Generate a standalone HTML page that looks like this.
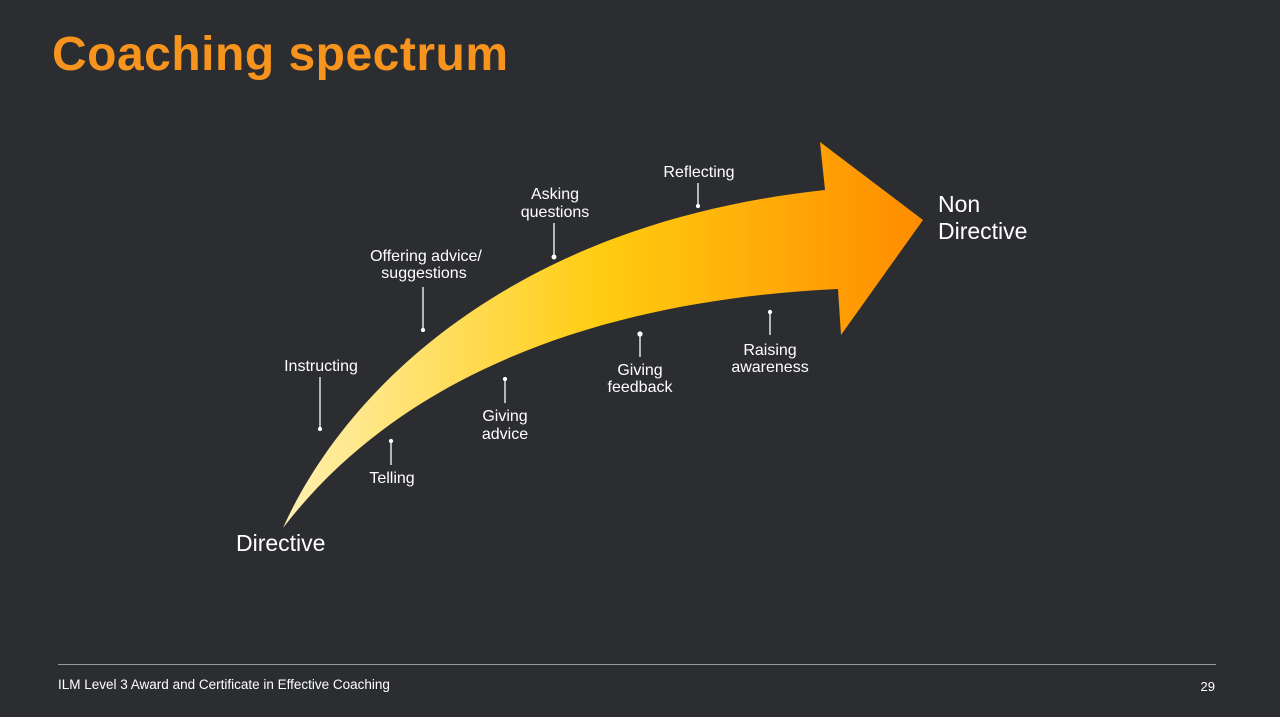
<!DOCTYPE html>
<html><head><meta charset="utf-8"><style>
body{margin:0;width:1280px;height:712px;background:#2c2d31;overflow:hidden;font-family:"Liberation Sans",sans-serif}
</style></head><body>
<svg width="1280" height="712" xmlns="http://www.w3.org/2000/svg">
<defs><linearGradient id="g" x1="283" y1="0" x2="923" y2="0" gradientUnits="userSpaceOnUse">
<stop offset="0" stop-color="#fff0b0"/><stop offset="0.5" stop-color="#ffcc10"/><stop offset="1" stop-color="#ff8c00"/></linearGradient></defs>
<rect width="1280" height="712" fill="#2c2d31"/>
<text x="52" y="70" font-size="48" font-weight="bold" fill="#f7941d" textLength="456">Coaching spectrum</text>
<path d="M283,528 C340,400 500,225 825,190 L820,142 L923,220 L841,335 L838,289 C600,300 400,375 283,528 Z" fill="url(#g)"/>
<g stroke="#fff" stroke-width="1.3" fill="#fff">
<line x1="320" y1="377" x2="320" y2="428"/><circle cx="320" cy="429" r="1.5"/>
<line x1="391" y1="442" x2="391" y2="465"/><circle cx="391" cy="441" r="1.5"/>
<line x1="423" y1="287" x2="423" y2="329"/><circle cx="423" cy="330" r="1.5"/>
<line x1="505" y1="380" x2="505" y2="403"/><circle cx="505" cy="379" r="1.5"/>
<line x1="554" y1="223" x2="554" y2="256"/><circle cx="554" cy="257" r="1.8"/>
<line x1="640" y1="334" x2="640" y2="357"/><circle cx="640" cy="334" r="2"/>
<line x1="698" y1="183" x2="698" y2="205"/><circle cx="698" cy="206" r="1.5"/>
<line x1="770" y1="313" x2="770" y2="335"/><circle cx="770" cy="312" r="1.5"/>
</g>
<g fill="#fff" font-size="16" text-anchor="middle">
<text x="321" y="371">Instructing</text>
<text x="392" y="483">Telling</text>
<text x="426" y="261">Offering advice/</text><text x="424" y="278">suggestions</text>
<text x="505" y="421">Giving</text><text x="505" y="439">advice</text>
<text x="555" y="199">Asking</text><text x="555" y="217">questions</text>
<text x="640" y="375">Giving</text><text x="640" y="392">feedback</text>
<text x="699" y="177">Reflecting</text>
<text x="770" y="355">Raising</text><text x="770" y="372">awareness</text>
</g>
<g fill="#fff" font-size="23">
<text x="236" y="551">Directive</text>
<text x="938" y="212">Non</text><text x="938" y="239">Directive</text>
</g>
<line x1="58" y1="664.5" x2="1216" y2="664.5" stroke="#9a9a9a" stroke-width="1"/>
<text x="58" y="689" font-size="13.5" fill="#fff">ILM Level 3 Award and Certificate in Effective Coaching</text>
<text x="1215" y="691" font-size="13" fill="#fff" text-anchor="end">29</text>
</svg>
</body></html>
